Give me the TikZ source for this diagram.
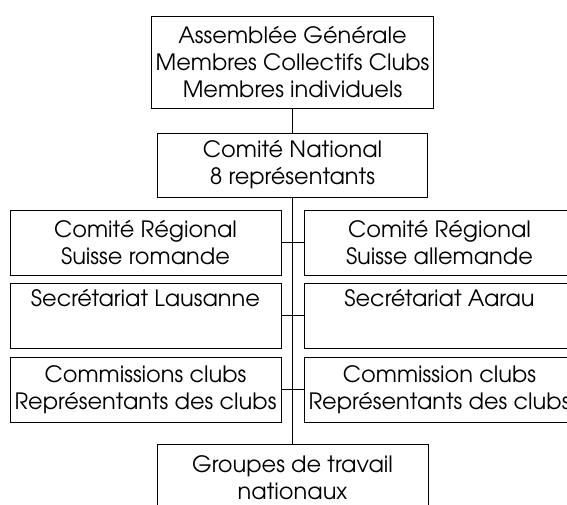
\documentclass[tikz,border=0pt]{standalone}
\usepackage{fontspec}
\setmainfont{TeX Gyre Adventor}
\begin{document}
\begin{tikzpicture}[x=1pt,y=1pt,
  box/.style={draw=black, line width=0.9pt, inner sep=0pt, align=center,
    font=\fontsize{22.5}{27}\selectfont, minimum height=65pt},
  link/.style={draw=black, line width=0.9pt}]
\useasboundingbox (0,0) rectangle (567,505);
\begin{scope}
\clip (0,0) rectangle (567,505);
\node[box, minimum width=282pt, minimum height=92pt] (ag) at (292.5,443)
  {Assemblée Générale\\Membres Collectifs Clubs\\Membres individuels};
\node[box, minimum width=270pt, minimum height=64pt] (cn) at (292.5,340)
  {Comité National\\8 représentants};
\node[box, minimum width=271pt] (crl) at (145.5,262.5)
  {Comité Régional\\Suisse romande};
\node[box, minimum width=271pt] (crr) at (439.5,262.5)
  {Comité Régional\\Suisse allemande};
\node[box, minimum width=271pt] (sl) at (145.5,189.5)
  {Secrétariat Lausanne\\\strut};
\node[box, minimum width=271pt] (sa) at (439.5,189.5)
  {Secrétariat Aarau\\\strut};
\node[box, minimum width=271pt] (cl) at (145.5,115.5)
  {Commissions clubs\\Représentants des clubs};
\node[box, minimum width=271pt] (cr) at (439.5,115.5)
  {Commission clubs\\Représentants des clubs};
\node[box, minimum width=271pt, minimum height=68pt] (gt) at (292.5,27)
  {Groupes de travail\\nationaux};
\draw[link] (ag.south) -- (cn.north);
\draw[link] (cn.south) -- (gt.north);
\draw[link] (crl.east) -- (crr.west);
\draw[link] (sl.east) -- (sa.west);
\draw[link] (cl.east) -- (cr.west);
\end{scope}
\end{tikzpicture}
\end{document}
